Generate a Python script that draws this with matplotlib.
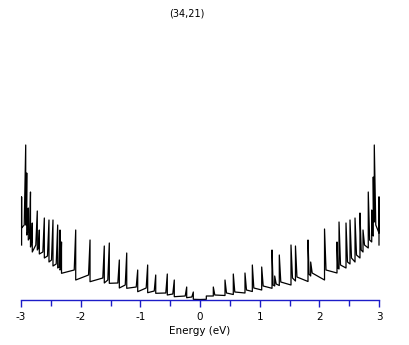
import numpy as np
import matplotlib
matplotlib.use("Agg")
import matplotlib.pyplot as plt

plt.rcParams['axes.unicode_minus'] = False
plt.rcParams['font.family'] = ['DejaVu Sans']

title = "(34,21)"
xlabel = "Energy (eV)"
xticks = [-3, -2, -1, 0, 1, 2, 3]
xticks_minor = [-2.5, -1.5, -0.5, 0.5, 1.5, 2.5]

# positive-energy van Hove singularities (energy, spike top, level before, level after)
pos_energy = [0.106, 0.223, 0.419, 0.558, 0.754, 0.877, 1.034, 1.207, 1.252, 1.329,
              1.525, 1.600, 1.810, 1.855, 2.087, 2.296, 2.330, 2.447, 2.514, 2.598,
              2.681, 2.732, 2.820, 2.878, 2.904, 2.921, 3.000]
pos_peak = [4, 13, 20, 26, 27, 35, 33, 50, 24, 45,
            55, 54, 60, 38, 71, 58, 78, 77, 80, 82,
            87, 70, 108, 90, 123, 155, 103]
pos_floor = [0.7, 4, 4.5, 5.5, 7, 8.5, 10, 11.7, 14, 14.5,
             15, 19, 18.5, 24, 20, 27, 31, 32, 36, 38,
             42, 48, 52, 58, 64, 78, 67]
pos_after = [4, 5, 7, 8, 10, 12, 14, 15, 16, 18,
             22, 23, 26, 27, 30, 32, 35, 38, 42, 45,
             50, 55, 60, 65, 80, 75, 55]

# negative-energy singularities (|energy|)
neg_energy = [0.112, 0.223, 0.431, 0.548, 0.742, 0.877, 1.044, 1.228, 1.352, 1.520,
              1.604, 1.843, 2.083, 2.321, 2.346, 2.385, 2.464, 2.531, 2.609, 2.693,
              2.727, 2.811, 2.841, 2.878, 2.904, 2.921, 2.990]
neg_peak = [8, 13, 20, 26, 25, 35, 30, 47, 40, 57,
            54, 60, 70, 58, 70, 75, 80, 80, 82, 70,
            89, 77, 108, 92, 127, 155, 103]
neg_floor = [0.7, 2.3, 3.3, 5, 6.7, 7.3, 8.3, 11.7, 12, 16.7,
             17, 18.3, 20, 26.7, 30, 32, 34, 38, 42, 46,
             50, 48, 53, 60, 65, 75, 72]
neg_after = [3, 4, 6, 7, 9, 12, 13, 15, 17, 20,
             22, 25, 30, 32, 33, 36, 40, 44, 48, 52,
             55, 58, 62, 68, 80, 75, 55]

dos_at_zero = 0.5


def build(energy, peak, floor, after):
    xs = [0.0]
    ys = [dos_at_zero]
    n = len(energy)
    for k in range(n):
        gap = energy[k + 1] - energy[k] if k + 1 < n else 0.0
        d = min(0.025, 0.4 * gap)
        xs += [energy[k], energy[k], energy[k] + d]
        ys += [floor[k], peak[k], after[k]]
    return np.array(xs), np.array(ys)


px, py = build(pos_energy, pos_peak, pos_floor, pos_after)
nx, ny = build(neg_energy, neg_peak, neg_floor, neg_after)
x = np.concatenate([-nx[::-1], px[1:]])
y = np.concatenate([ny[::-1], py[1:]])

W, H = 409, 345
fig = plt.figure(figsize=(W / 100, H / 100), dpi=100)
ax = fig.add_axes([21 / W, 45 / H, 358 / W, 280 / H])
ax.plot(x, y, color='black', lw=0.9, clip_on=False)
ax.set_xlim(-3, 3)
ax.set_ylim(0, 280)

blue = '#1c1cc8'
for s in ['top', 'left', 'right']:
    ax.spines[s].set_visible(False)
ax.spines['bottom'].set_color(blue)
ax.spines['bottom'].set_linewidth(1.0)
ax.set_yticks([])
ax.set_xticks(xticks)
ax.set_xticklabels([str(t) for t in xticks])
ax.set_xticks(xticks_minor, minor=True)
ax.tick_params(axis='x', which='major', direction='out', length=5, width=1.0,
               color=blue, labelsize=7.5, pad=3.5)
ax.tick_params(axis='x', which='minor', direction='out', length=4, width=1.0,
               color=blue)
ax.set_xlabel(xlabel, fontsize=7.5, labelpad=3)
ax.patch.set_alpha(0)
fig.text(187 / W, 1 - 13 / H, title, ha='center', va='center', fontsize=7)

fig.savefig('out.png', dpi=100)
